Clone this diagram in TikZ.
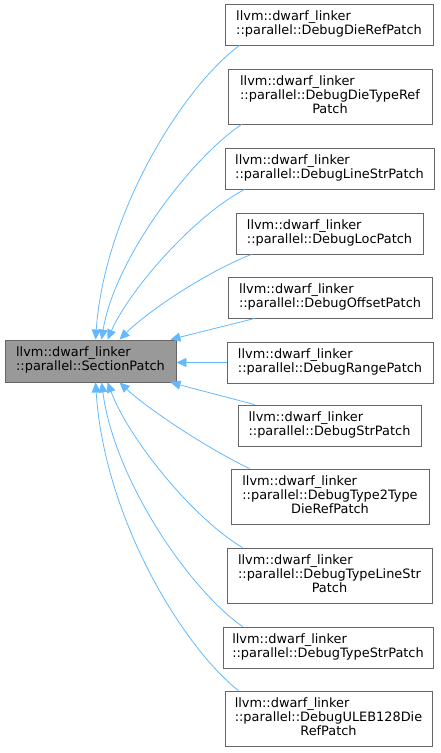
\documentclass[tikz,border=0pt]{standalone}
\usepackage{fontspec}
\setmainfont{DejaVu Sans}
\usetikzlibrary{arrows.meta}
\definecolor{edgeblue}{HTML}{63B8FF}
\definecolor{boxborder}{HTML}{666666}
\definecolor{mainfill}{HTML}{999999}
\newcommand{\twol}[2]{\begin{tabular}{@{}l@{}}#1\\#2\end{tabular}}
\newcommand{\threel}[3]{\begin{tabular}{@{}l@{}}#1\\#2\\\multicolumn{1}{@{}c@{}}{#3}\end{tabular}}
\begin{document}
\begin{tikzpicture}[x=1pt,y=-1pt,
  every node/.style={font=\fontsize{12.9}{14}\selectfont},
  cls/.style={draw=boxborder,line width=0.9pt,fill=white,inner sep=0pt,anchor=center},
  mainbox/.style={cls,fill=mainfill},
  inh/.style={draw=edgeblue,line width=0.8pt,-{Triangle[length=10pt,width=9pt]}}]
\useasboundingbox (0,0) rectangle (441,753);
\node[mainbox,minimum width=171pt,minimum height=42pt] (main) at (90.5,361) {\twol{llvm::dwarf\_linker}{::parallel::SectionPatch}};
\node[cls,minimum width=208pt,minimum height=41pt] (b1) at (329,24.5) {\twol{llvm::dwarf\_linker}{::parallel::DebugDieRefPatch}};
\node[cls,minimum width=204pt,minimum height=55pt] (b2) at (330,96.5) {\threel{llvm::dwarf\_linker}{::parallel::DebugDieTypeRef}{Patch}};
\node[cls,minimum width=209pt,minimum height=41pt] (b3) at (329.5,168.5) {\twol{llvm::dwarf\_linker}{::parallel::DebugLineStrPatch}};
\node[cls,minimum width=187pt,minimum height=41pt] (b4) at (329.5,233.5) {\twol{llvm::dwarf\_linker}{::parallel::DebugLocPatch}};
\node[cls,minimum width=204pt,minimum height=41pt] (b5) at (330,297.5) {\twol{llvm::dwarf\_linker}{::parallel::DebugOffsetPatch}};
\node[cls,minimum width=206pt,minimum height=41pt] (b6) at (330,362.5) {\twol{llvm::dwarf\_linker}{::parallel::DebugRangePatch}};
\node[cls,minimum width=183pt,minimum height=41pt] (b7) at (329.5,425.5) {\twol{llvm::dwarf\_linker}{::parallel::DebugStrPatch}};
\node[cls,minimum width=198pt,minimum height=55pt] (b8) at (330,496.5) {\threel{llvm::dwarf\_linker}{::parallel::DebugType2Type}{DieRefPatch}};
\node[cls,minimum width=205pt,minimum height=55pt] (b9) at (329.5,575.5) {\threel{llvm::dwarf\_linker}{::parallel::DebugTypeLineStr}{Patch}};
\node[cls,minimum width=210pt,minimum height=41pt] (b10) at (328,647.5) {\twol{llvm::dwarf\_linker}{::parallel::DebugTypeStrPatch}};
\node[cls,minimum width=207pt,minimum height=55pt] (b11) at (328.5,718.5) {\threel{llvm::dwarf\_linker}{::parallel::DebugULEB128Die}{RefPatch}};
% edges (child -> parent, arrow at parent)
\draw[inh] ([xshift=15pt]b1.south west) .. controls +(-55,40) and +(9,-128) .. ([xshift=91pt]main.north west);
\draw[inh] ([xshift=14pt]b2.south west) .. controls +(-52,35) and +(13,-80) .. ([xshift=97pt]main.north west);
\draw[inh] ([xshift=20pt]b3.south west) .. controls +(-50,26) and +(22,-50) .. ([xshift=103pt]main.north west);
\draw[inh] ([xshift=16pt]b4.south west) .. controls +(-42,16) and +(30,-30) .. ([xshift=115pt]main.north west);
\draw[inh] ([xshift=27pt]b5.south west) -- ([xshift=-6pt]main.north east);
\draw[inh] (b6.west) -- (main.east |- b6.west);
\draw[inh] ([xshift=17pt]b7.north west) -- ([xshift=-6pt]main.south east);
\draw[inh] ([xshift=19pt]b8.north west) .. controls +(-40,-19) and +(30,28) .. ([xshift=115pt]main.south west);
\draw[inh] ([xshift=16pt]b9.north west) .. controls +(-48,-28) and +(22,58) .. ([xshift=103pt]main.south west);
\draw[inh] ([xshift=20pt]b10.north west) .. controls +(-53,-37) and +(13,98) .. ([xshift=97pt]main.south west);
\draw[inh] ([xshift=14pt]b11.north west) .. controls +(-54,-42) and +(9,138) .. ([xshift=91pt]main.south west);
\end{tikzpicture}
\end{document}
